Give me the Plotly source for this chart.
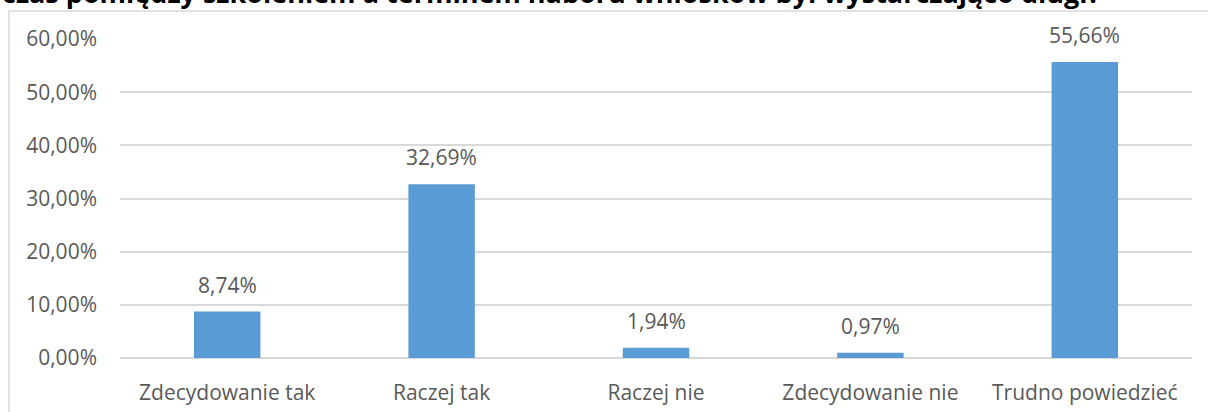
import plotly.graph_objects as go

categories = ["Zdecydowanie tak", "Raczej tak", "Raczej nie", "Zdecydowanie nie", "Trudno powiedzieć"]
values = [0.0874, 0.3269, 0.0194, 0.0097, 0.5566]
y_ticks = [0, 0.1, 0.2, 0.3, 0.4, 0.5, 0.6]
y_tick_labels = ["0,00%", "10,00%", "20,00%", "30,00%", "40,00%", "50,00%", "60,00%"]
title_text = "czas pomiędzy szkoleniem a terminem naboru wniosków był wystarczająco długi?"

W, H = 1208, 412
ML, MR, MT, MB = 120, 16, 39, 54
PW, PH = W - ML - MR, H - MT - MB

TEXT = "#595959"
GRID = "#d9d9d9"
BAR = "#5b9bd5"
FONT = "Open Sans"


def px_x(x):
    return (x - ML) / PW


def px_y(y):
    return (H - MB - y) / PH


def pct(v):
    return f"{v * 100:.2f}%".replace(".", ",")


fig = go.Figure()
fig.add_trace(go.Bar(
    x=categories,
    y=values,
    marker=dict(color=BAR, line=dict(width=0)),
    hoverinfo="skip",
))

annotations = [
    dict(x=c, y=v, xref="x", yref="y", text=pct(v), showarrow=False,
         yanchor="bottom", yshift=11, font=dict(family=FONT, size=21, color=TEXT))
    for c, v in zip(categories, values)
]
annotations.append(dict(
    x=px_x(0), y=px_y(-7), xref="paper", yref="paper", xanchor="left", yanchor="middle",
    text=f"<b>{title_text}</b>", showarrow=False,
    font=dict(family=FONT, size=27, color="#000000"),
))

fig.update_layout(
    width=W, height=H,
    margin=dict(l=ML, r=MR, t=MT, b=MB, pad=0, autoexpand=False),
    paper_bgcolor="white", plot_bgcolor="white",
    bargap=0.69,
    showlegend=False,
    annotations=annotations,
    shapes=[dict(type="rect", xref="paper", yref="paper",
                 x0=px_x(9), x1=px_x(1230), y0=px_y(430), y1=px_y(11),
                 line=dict(color=GRID, width=1.5), fillcolor="rgba(0,0,0,0)", layer="below")],
    xaxis=dict(
        automargin=False,
        showgrid=False, zeroline=False, showline=False, ticks="",
        tickfont=dict(family=FONT, size=21, color=TEXT),
        ticklabelstandoff=20,
    ),
    yaxis=dict(
        automargin=False,
        range=[0, 0.6], tickvals=y_ticks, ticktext=y_tick_labels,
        showgrid=True, gridcolor=GRID, gridwidth=1.5,
        zeroline=True, zerolinecolor=GRID, zerolinewidth=1.5,
        showline=False, ticks="",
        tickfont=dict(family=FONT, size=21, color=TEXT),
        ticklabelstandoff=22,
    ),
)

fig.write_html("out.html")
